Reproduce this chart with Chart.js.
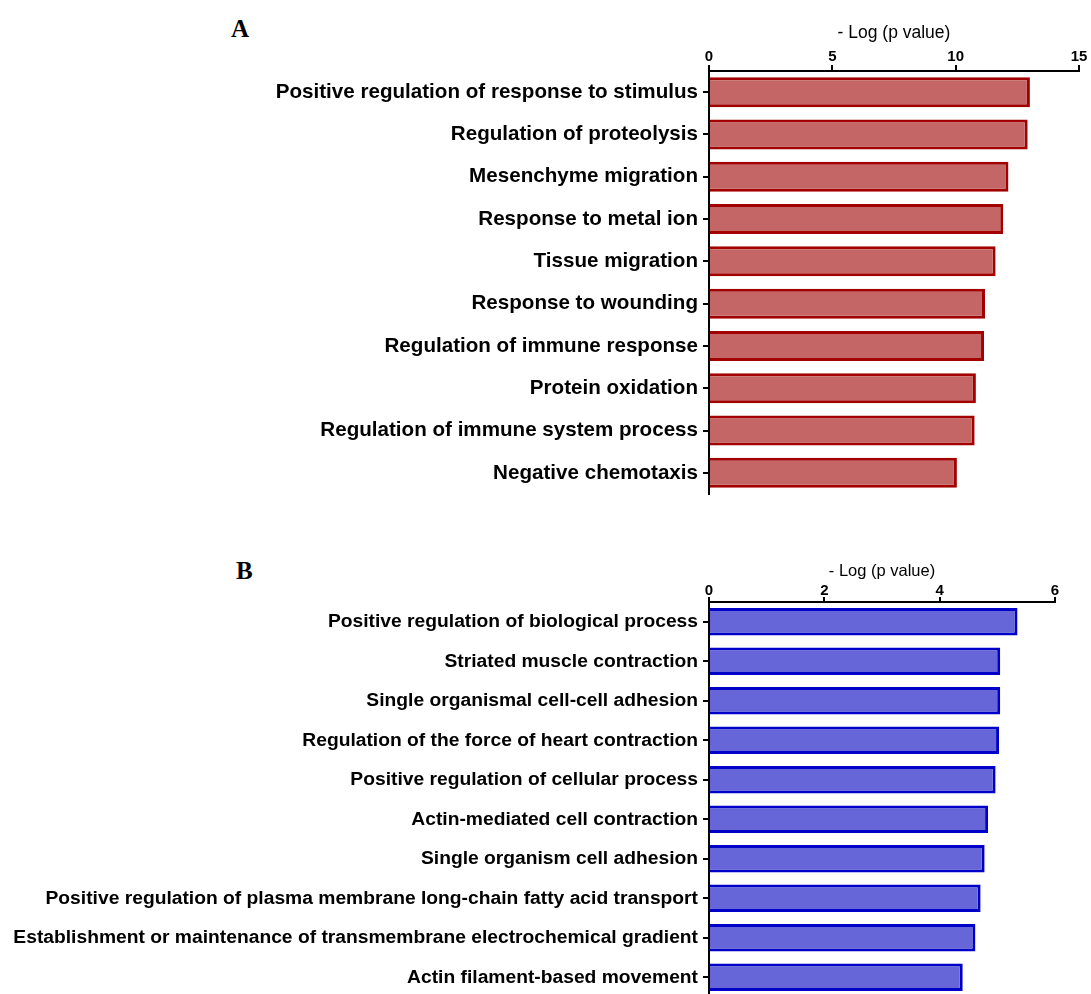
<!DOCTYPE html>
<html>
<head>
<meta charset="utf-8">
<script src="https://cdn.jsdelivr.net/npm/chart.js@4/dist/chart.umd.min.js"></script>
<style>
  body { margin: 0; background: #fff; width: 1091px; height: 994px; position: relative; overflow: hidden; }
  .panel { position: absolute; left: 0; width: 1091px; }
  .lettre { position: absolute; font-family: "Liberation Serif", "Times New Roman", serif; font-weight: bold; font-size: 25px; line-height: 1; color: #000; }
</style>
</head>
<body>
<div class="lettre" style="left:231px; top:16px;">A</div>
<div class="lettre" style="left:236px; top:558px;">B</div>
<div class="panel" style="top:0; height:500px;"><canvas id="graphA"></canvas></div>
<div class="panel" style="top:531px; height:468px;"><canvas id="graphB"></canvas></div>
<script>
// Panel A - termes et valeurs
const termesA = [
  "Positive regulation of response to stimulus",
  "Regulation of proteolysis",
  "Mesenchyme migration",
  "Response to metal ion",
  "Tissue migration",
  "Response to wounding",
  "Regulation of immune response",
  "Protein oxidation",
  "Regulation of immune system process",
  "Negative chemotaxis"
];
const valeursA = [13.01, 12.92, 12.14, 11.93, 11.62, 11.19, 11.15, 10.82, 10.77, 10.05];
const ticksA = [0, 5, 10, 15];

// Panel B - termes et valeurs
const termesB = [
  "Positive regulation of biological process",
  "Striated muscle contraction",
  "Single organismal cell-cell adhesion",
  "Regulation of the force of heart contraction",
  "Positive regulation of cellular process",
  "Actin-mediated cell contraction",
  "Single organism cell adhesion",
  "Positive regulation of plasma membrane long-chain fatty acid transport",
  "Establishment or maintenance of transmembrane electrochemical gradient",
  "Actin filament-based movement"
];
const valeursB = [5.35, 5.05, 5.05, 5.03, 4.97, 4.84, 4.78, 4.71, 4.62, 4.40];
const ticksB = [0, 2, 4, 6];

const titreAxe = "- Log (p value)";
const police = "'Liberation Sans', Arial, Helvetica, sans-serif";

function dessinerGraphique(id, termes, valeurs, ticks, p) {
  return new Chart(document.getElementById(id), {
    type: 'bar',
    data: {
      labels: termes,
      datasets: [{
        data: valeurs,
        backgroundColor: p.fond,
        borderColor: p.bord,
        borderWidth: 3,
        barPercentage: p.barre,
        categoryPercentage: 1
      }]
    },
    options: {
      indexAxis: 'y',
      responsive: true,
      maintainAspectRatio: false,
      animation: false,
      layout: { padding: { left: 0, top: 0, right: p.droite, bottom: p.bas } },
      plugins: { legend: { display: false }, tooltip: { enabled: false } },
      scales: {
        x: {
          position: 'top',
          min: ticks[0],
          max: ticks[ticks.length - 1],
          afterBuildTicks: s => { s.ticks = ticks.map(v => ({ value: v })); },
          afterFit: s => { s.height = 71; s.paddingLeft = 0; s.paddingRight = 0; },
          border: { display: true, color: '#000', width: 2 },
          grid: { drawOnChartArea: false, drawTicks: true, tickLength: p.tick, color: '#000', lineWidth: 2 },
          ticks: { color: '#000', padding: p.padTick, font: { family: police, size: 15, weight: 'bold' } },
          title: {
            display: true, text: titreAxe, color: '#000',
            padding: { top: p.padTitre, bottom: 0 },
            font: { family: police, size: p.tailleTitre }
          }
        },
        y: {
          afterFit: s => { s.width = 709; s.paddingTop = 0; s.paddingBottom = 0; },
          border: { display: true, color: '#000', width: 2 },
          grid: { offset: false, drawOnChartArea: false, drawTicks: true, tickLength: 6, color: '#000', lineWidth: 2 },
          ticks: { color: '#000', padding: 5, font: { family: police, size: p.tailleLabel, weight: 'bold' } }
        }
      }
    }
  });
}

dessinerGraphique('graphA', termesA, valeursA, ticksA, {
  fond: '#c46666', bord: '#a30000', barre: 0.71,
  droite: 12, bas: 6, tick: 6, padTick: -1, padTitre: 23, tailleTitre: 17.5, tailleLabel: 20.6
});
dessinerGraphique('graphB', termesB, valeursB, ticksB, {
  fond: '#6666d8', bord: '#0000c8', barre: 0.69,
  droite: 36, bas: 2, tick: 5, padTick: -3, padTitre: 31, tailleTitre: 16.5, tailleLabel: 19.25
});
</script>
</body>
</html>
